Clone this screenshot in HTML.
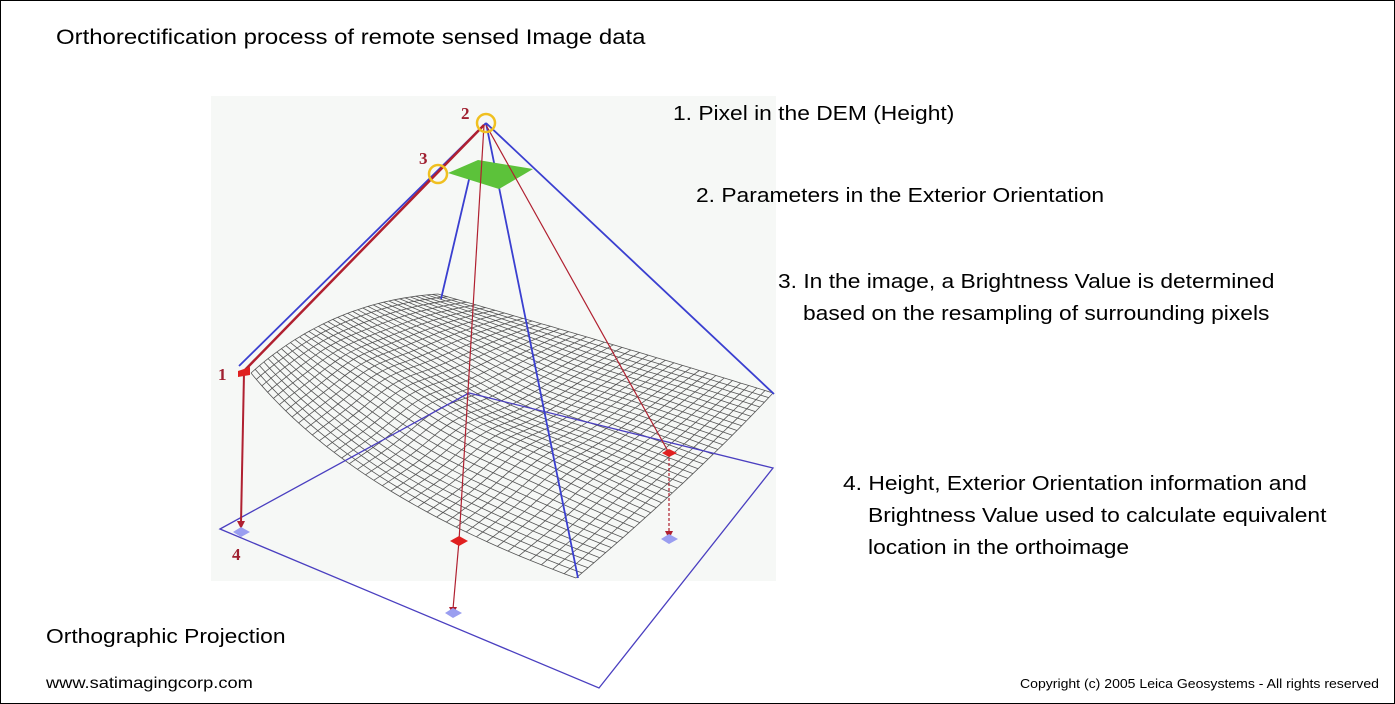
<!DOCTYPE html>
<html><head><meta charset="utf-8"><style>
html,body{margin:0;padding:0;background:#fff}
#c{position:relative;width:1393px;height:702px;border:1px solid #000;overflow:hidden;font-family:"Liberation Sans",Arial,sans-serif;color:#000}
.t{position:absolute;white-space:nowrap;font-size:20px;line-height:1;transform:scaleX(1.14);transform-origin:0 0}
svg{position:absolute;left:0;top:0}
</style></head><body><div id="c">
<svg width="1393" height="702" id="s">
<rect x="210" y="95" width="565" height="485" fill="#f6f8f6"/>
<g id="mesh" stroke="#555" stroke-width="0.8" fill="none"></g>
<polygon points="219,528 468,392 772,467 598,687" fill="none" stroke="#4a3fc0" stroke-width="1.3"/>
<g stroke="#3a3fd0" stroke-width="1.8" fill="none">
<line x1="485" y1="122" x2="238" y2="365"/>
<line x1="485" y1="122" x2="773" y2="393"/>
<line x1="470" y1="170" x2="440" y2="298"/>
<line x1="485" y1="122" x2="577" y2="577"/>
</g>
<polygon points="447,172 477,159 532,168 498,188" fill="#5cc23a"/>
<g stroke="#b02030" fill="none">
<line x1="483" y1="124" x2="243" y2="370" stroke-width="2.5"/>
<line x1="483" y1="124" x2="458" y2="540" stroke-width="1.2"/>
<line x1="485" y1="124" x2="668" y2="452" stroke-width="1.2"/>
<line x1="243" y1="372" x2="240" y2="522" stroke-width="2"/>
<line x1="458" y1="540" x2="452" y2="608" stroke-width="1.2"/>
<line x1="668" y1="452" x2="668" y2="532" stroke-width="1.2" stroke-dasharray="3,2"/>
</g>
<g fill="#b02030">
<polygon points="236,520 244,520 240,528"/><polygon points="448,606 456,606 452,614"/><polygon points="664,530 672,530 668,538"/>
</g>
<g fill="#e02020">
<polygon points="237,370 249,366 249,374 237,376"/><polygon points="449,540 458,535 467,540 458,545"/><polygon points="661,452 668,448 676,452 668,456"/>
</g>
<g fill="#9a9ef0">
<polygon points="232,531 240,526 249,531 240,536"/><polygon points="444,612 452,607 461,612 452,617"/><polygon points="660,538 668,533 677,538 668,543"/>
</g>
<circle cx="485" cy="122" r="9" fill="none" stroke="#f0c020" stroke-width="2.5"/>
<circle cx="437" cy="173" r="9" fill="none" stroke="#f0c020" stroke-width="2.5"/>
<g font-family="Liberation Serif,serif" font-weight="bold" font-size="17" fill="#a02030">
<text x="460" y="118">2</text><text x="418" y="163">3</text><text x="217" y="379">1</text><text x="231" y="559">4</text>
</g>
</svg>
<div class="t" style="left:55px;top:26px;font-size:21px">Orthorectification process of remote sensed Image data</div>
<div class="t" style="left:672px;top:103px">1. Pixel in the DEM (Height)</div>
<div class="t" style="left:695px;top:185px">2. Parameters in the Exterior Orientation</div>
<div class="t" style="left:777px;top:271px">3. In the image, a Brightness Value is determined</div>
<div class="t" style="left:802px;top:303px">based on the resampling of surrounding pixels</div>
<div class="t" style="left:842px;top:473px">4. Height, Exterior Orientation information and</div>
<div class="t" style="left:867px;top:505px">Brightness Value used to calculate equivalent</div>
<div class="t" style="left:867px;top:537px">location in the orthoimage</div>
<div class="t" style="left:45px;top:626px">Orthographic Projection</div>
<div class="t" style="left:45px;top:675px;font-size:16px">www.satimagingcorp.com</div>
<div class="t" style="left:1019px;top:676px;font-size:13px;transform:scaleX(1.08)">Copyright (c) 2005 Leica Geosystems - All rights reserved</div>
</div>
<script>
(function(){
var g=document.getElementById('mesh');var N=38;
var A=[250,372],B=[437,293],C=[772,392],D=[575,577];
var cAB=[330,300],cBC=[620,345],cDC=[690,480],cAD=[350,495];
function q(p0,c,p1,t){return [(1-t)*(1-t)*p0[0]+2*(1-t)*t*c[0]+t*t*p1[0],(1-t)*(1-t)*p0[1]+2*(1-t)*t*c[1]+t*t*p1[1]];}
function P(u,v){
 var e0=q(A,cAB,B,u), e1=q(D,cDC,C,u), f0=q(A,cAD,D,v), f1=q(B,cBC,C,v);
 var r=[0,0];
 for(var k=0;k<2;k++){
  r[k]=(1-v)*e0[k]+v*e1[k]+(1-u)*f0[k]+u*f1[k]-((1-u)*(1-v)*A[k]+u*(1-v)*B[k]+u*v*C[k]+(1-u)*v*D[k]);
 }
 var h=-10*Math.exp(-Math.pow((u-0.35)/0.15,2))*Math.sin(v*3.14)+8*Math.exp(-Math.pow((v-0.5)/0.2,2))*Math.sin(u*3.14);
 r[1]+=h;
 return r[0].toFixed(1)+','+r[1].toFixed(1);
}
var s='';
for(var i=0;i<=N;i++){var a=[],b=[];for(var j=0;j<=N;j++){a.push(P(i/N,j/N));b.push(P(j/N,i/N));}
 s+='<polyline points="'+a.join(' ')+'"/><polyline points="'+b.join(' ')+'"/>';}
g.innerHTML=s;
})();
</script>
</body></html>
